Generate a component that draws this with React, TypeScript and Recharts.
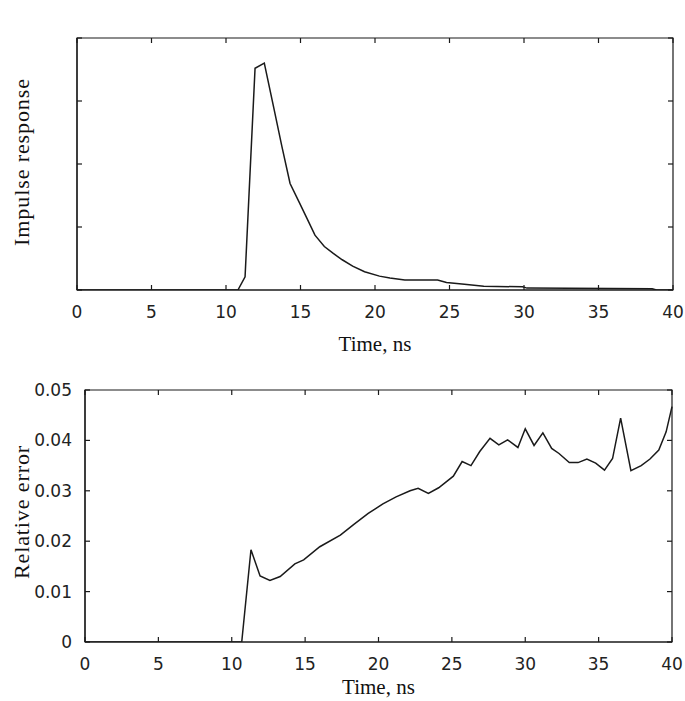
import React from "react";
import { LineChart, Line, XAxis, YAxis, Label, ReferenceArea } from "recharts";

// Top panel: impulse response (arbitrary units)
const impulseTime = [0, 10.8, 11.28, 11.95, 12.57, 13.2, 13.75, 14.3, 14.9, 15.45, 15.97, 16.6, 17.2, 17.8, 18.5, 19.3, 20.3, 21.0, 22.0, 24.2, 24.8, 26.0, 27.3, 29.9, 30.2, 38.6, 38.9, 40];
const impulseValue = [0, 0, 0.21, 3.52, 3.6, 2.9, 2.28, 1.69, 1.4, 1.13, 0.87, 0.69, 0.58, 0.48, 0.38, 0.29, 0.22, 0.19, 0.16, 0.16, 0.12, 0.09, 0.06, 0.05, 0.03, 0.02, 0, 0];

// Bottom panel: relative error
const errorTime = [0, 10.68, 11.31, 11.93, 12.6, 13.3, 14.3, 14.9, 16.0, 17.4, 18.3, 19.3, 20.3, 21.2, 22.15, 22.7, 23.4, 24.1, 25.1, 25.7, 26.3, 26.9, 27.6, 28.2, 28.8, 29.5, 30.0, 30.6, 31.2, 31.8, 32.3, 33.0, 33.6, 34.2, 34.8, 35.4, 35.95, 36.5, 37.2, 37.9, 38.5, 39.1, 39.6, 40];
const errorValue = [0, 0, 0.0183, 0.0131, 0.0122, 0.013, 0.0155, 0.0163, 0.0189, 0.0212, 0.0233, 0.0255, 0.0274, 0.0288, 0.03, 0.0305, 0.0295, 0.0306, 0.0329, 0.0358, 0.035, 0.0378, 0.0404, 0.0391, 0.0401, 0.0386, 0.0423, 0.039, 0.0415, 0.0384, 0.0374, 0.0356, 0.0356, 0.0363, 0.0355, 0.0341, 0.0364, 0.0444, 0.034, 0.035, 0.0363, 0.0381, 0.0417, 0.0467];

const timeTicks = [0, 5, 10, 15, 20, 25, 30, 35, 40];
const impulseTicks = [0, 1, 2, 3, 4];
const errorTicks = [0, 0.01, 0.02, 0.03, 0.04, 0.05];

const xTitle = "Time, ns";
const topYTitle = "Impulse response";
const bottomYTitle = "Relative error";

const impulseData = impulseTime.map((t, i) => ({ t, v: impulseValue[i] }));
const errorData = errorTime.map((t, i) => ({ t, v: errorValue[i] }));

const TICK_FAMILY = "DejaVu Sans";
const TICK_SIZE_FONT = 17;
const TITLE_FONT = "Liberation Serif";
const INK = "#1a1a1a";
const TICK_LEN = 5;
const X_MARGIN = 16;
const Y_MARGIN = 13;

// Bottom x-axis tick: label plus inward tick marks on bottom and (mirrored) top edges
const makeXTick = (plotHeight: number) => (props: any) => {
  const { x, y, payload } = props;
  const axisY = y - X_MARGIN;
  const topY = axisY - plotHeight;
  return (
    <g>
      <line x1={x} y1={axisY} x2={x} y2={axisY - TICK_LEN} stroke={INK} strokeWidth={1.2} />
      <line x1={x} y1={topY} x2={x} y2={topY + TICK_LEN} stroke={INK} strokeWidth={1.2} />
      <text x={x} y={axisY + X_MARGIN} dy="0.71em" textAnchor="middle" fontFamily={TICK_FAMILY} fontSize={TICK_SIZE_FONT} fill="#222">
        {payload.value}
      </text>
    </g>
  );
};

// Left y-axis tick: optional label plus inward tick marks on left and (mirrored) right edges
const makeYTick = (plotWidth: number, showLabel: boolean) => (props: any) => {
  const { x, y, payload } = props;
  const axisX = x + Y_MARGIN;
  const rightX = axisX + plotWidth;
  const v = payload.value as number;
  const label = v === 0 ? "0" : v.toFixed(2);
  return (
    <g>
      <line x1={axisX} y1={y} x2={axisX + TICK_LEN} y2={y} stroke={INK} strokeWidth={1.2} />
      <line x1={rightX} y1={y} x2={rightX - TICK_LEN} y2={y} stroke={INK} strokeWidth={1.2} />
      {showLabel && (
        <text x={x} y={y} dy="0.355em" textAnchor="end" fontFamily={TICK_FAMILY} fontSize={TICK_SIZE_FONT} fill="#222">
          {label}
        </text>
      )}
    </g>
  );
};

const XTitle = (props: any) => {
  const vb = props.viewBox || {};
  return (
    <text x={vb.x + vb.width / 2} y={vb.y + props.gap} textAnchor="middle" fontFamily={TITLE_FONT} fontSize={21} fill="#111">
      {props.value}
    </text>
  );
};

const YTitle = (props: any) => {
  const vb = props.viewBox || {};
  const cx = 29;
  const cy = vb.y + vb.height / 2 + (props.shift || 0);
  return (
    <text
      x={cx}
      y={cy}
      textAnchor="middle"
      transform={`rotate(-90, ${cx}, ${cy})`}
      fontFamily={TITLE_FONT}
      fontSize={22}
      letterSpacing={0.9}
      fill="#111"
    >
      {props.value}
    </text>
  );
};

const axisLine = { stroke: INK, strokeWidth: 1.2 };

export default function App() {
  return (
    <div style={{ position: "absolute", left: 0, top: 0, width: 685, height: 701, background: "#fff" }}>
      <div style={{ position: "absolute", left: 0, top: 0 }}>
        <LineChart width={685} height={365} data={impulseData} margin={{ top: 38, right: 12, bottom: 45, left: 17 }}>
          <XAxis
            dataKey="t"
            type="number"
            domain={[0, 40]}
            ticks={timeTicks}
            interval={0}
            height={30}
            tickSize={0}
            tickMargin={X_MARGIN}
            tick={makeXTick(252)}
            tickLine={false}
            axisLine={axisLine}
          >
            <Label value={xTitle} content={<XTitle gap={61} />} />
          </XAxis>
          <YAxis
            type="number"
            domain={[0, 4]}
            ticks={impulseTicks}
            interval={0}
            width={60}
            tickSize={0}
            tickMargin={Y_MARGIN}
            tick={makeYTick(596, false)}
            tickLine={false}
            axisLine={axisLine}
            allowDataOverflow
          >
            <Label value={topYTitle} content={<YTitle shift={-2} />} />
          </YAxis>
          <ReferenceArea x1={0} x2={40} y1={0} y2={4} fill="none" stroke={INK} strokeWidth={1.2} ifOverflow="visible" />
          <Line type="linear" dataKey="v" stroke={INK} strokeWidth={1.5} dot={false} isAnimationActive={false} />
        </LineChart>
      </div>
      <div style={{ position: "absolute", left: 0, top: 365 }}>
        <LineChart width={685} height={336} data={errorData} margin={{ top: 25, right: 13, bottom: 29, left: 25 }}>
          <XAxis
            dataKey="t"
            type="number"
            domain={[0, 40]}
            ticks={timeTicks}
            interval={0}
            height={30}
            tickSize={0}
            tickMargin={X_MARGIN}
            tick={makeXTick(252)}
            tickLine={false}
            axisLine={axisLine}
          >
            <Label value={xTitle} content={<XTitle gap={52} />} />
          </XAxis>
          <YAxis
            type="number"
            domain={[0, 0.05]}
            ticks={errorTicks}
            interval={0}
            width={60}
            tickSize={0}
            tickMargin={Y_MARGIN}
            tick={makeYTick(587, true)}
            tickLine={false}
            axisLine={axisLine}
            allowDataOverflow
          >
            <Label value={bottomYTitle} content={<YTitle shift={-4} />} />
          </YAxis>
          <ReferenceArea x1={0} x2={40} y1={0} y2={0.05} fill="none" stroke={INK} strokeWidth={1.2} ifOverflow="visible" />
          <Line type="linear" dataKey="v" stroke={INK} strokeWidth={1.5} dot={false} isAnimationActive={false} />
        </LineChart>
      </div>
    </div>
  );
}
